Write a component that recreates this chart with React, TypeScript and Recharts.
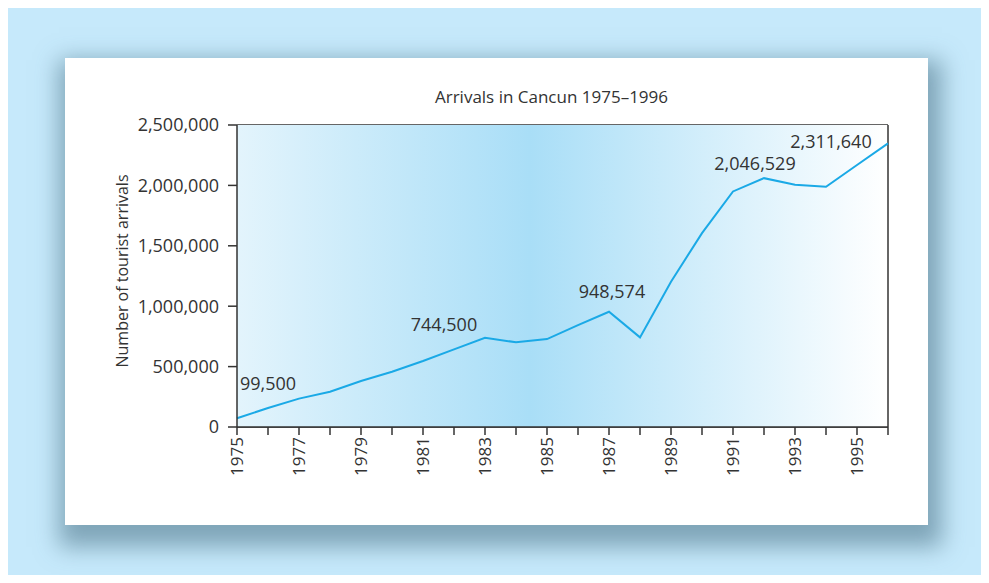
import React from 'react';
import { LineChart, Line, XAxis, YAxis, CartesianGrid, ReferenceArea, ReferenceLine, LabelList } from 'recharts';

const years = [1975, 1976, 1977, 1978, 1979, 1980, 1981, 1982, 1983, 1984, 1985, 1986, 1987, 1988, 1989, 1990, 1991, 1992, 1993, 1994, 1995, 1996];
const arrivals = [72000, 157000, 235000, 292000, 381000, 458000, 546000, 643000, 739000, 701000, 728000, 844000, 954000, 742000, 1203000, 1605000, 1950000, 2060000, 2006000, 1989000, 2169000, 2348000];
const pointLabels: Record<number, string> = {
  1975: '99,500',
  1983: '744,500',
  1987: '948,574',
  1992: '2,046,529',
  1996: '2,311,640',
};
const yTicks = [0, 500000, 1000000, 1500000, 2000000, 2500000];

const data = years.map((year, i) => ({ year, arrivals: arrivals[i], label: pointLabels[year] || '' }));

// label placement relative to the point (dx = centre offset, dy = vertical centre offset)
const labelOffset: Record<number, { dx: number; dy: number; anchor: string }> = {
  1975: { dx: 3, dy: -35, anchor: 'start' },
  1983: { dx: -41, dy: -13, anchor: 'middle' },
  1987: { dx: 3, dy: -20, anchor: 'middle' },
  1992: { dx: -9, dy: -14, anchor: 'middle' },
  1996: { dx: -57, dy: -2, anchor: 'middle' },
};

const font = '"Open Sans", sans-serif';
const ink = '#333333';

const fmt = (v: number) => v.toLocaleString('en-US');

const XTick = (props: any) => {
  const { x, y, payload } = props;
  if (payload.value % 2 === 0) return null;
  return (
    <text
      transform={`translate(${x},${y}) rotate(-90)`}
      textAnchor="end"
      dy="0.35em"
      fill={ink}
      fontSize={17}
      fontFamily={font}
    >
      {payload.value}
    </text>
  );
};

const PointLabel = (props: any) => {
  const { x, y, value, index } = props;
  if (!value) return null;
  const o = labelOffset[years[index]];
  return (
    <text x={x + o.dx} y={y + o.dy} dy="0.35em" textAnchor={o.anchor} fill={ink} fontSize={18} fontFamily={font}>
      {value}
    </text>
  );
};

export default function App() {
  return (
    <div style={{ position: 'relative', margin: -8, width: 989, height: 583, background: '#ffffff', overflow: 'hidden' }}>
      <div style={{ position: 'absolute', left: 5, top: 4, width: 979, height: 575, background: '#c6e9fb' }} />
      <div
        style={{
          position: 'absolute',
          left: 65,
          top: 58,
          width: 863,
          height: 467,
          background: '#ffffff',
          boxShadow: '4px 12px 22px 10px rgba(70, 110, 130, 0.55)',
        }}
      >
        <div
          style={{
            position: 'absolute',
            left: 0,
            top: 27,
            width: 973,
            textAlign: 'center',
            fontFamily: font,
            fontSize: 17,
            color: ink,
          }}
        >
          Arrivals in Cancun 1975–1996
        </div>
        <div
          style={{
            position: 'absolute',
            left: 57 - 110,
            top: 213 - 11,
            width: 220,
            height: 22,
            lineHeight: '22px',
            textAlign: 'center',
            transform: 'rotate(-90deg)',
            fontFamily: font,
            fontSize: 16,
            color: ink,
          }}
        >
          Number of tourist arrivals
        </div>
        <div style={{ position: 'absolute', left: 0, top: 0 }}>
          <LineChart width={863} height={467} data={data} margin={{ top: 67, right: 40, left: 0, bottom: 0 }}>
            <defs>
              <linearGradient id="plotBg" x1="0" y1="0" x2="1" y2="0">
                <stop offset="0%" stopColor="#e3f4fc" />
                <stop offset="45%" stopColor="#a9def7" />
                <stop offset="100%" stopColor="#ffffff" />
              </linearGradient>
            </defs>
            <ReferenceArea x1={1975} x2={1996} y1={0} y2={2500000} fill="url(#plotBg)" fillOpacity={1} stroke="none" ifOverflow="extendDomain" />
            <CartesianGrid vertical={false} stroke={ink} strokeWidth={1.5} strokeDasharray="" />
            <ReferenceLine x={1996} stroke={ink} strokeWidth={1.5} />
            <XAxis
              dataKey="year"
              type="number"
              domain={[1975, 1996]}
              ticks={years}
              interval={0}
              height={98}
              tickSize={8}
              tickMargin={2}
              tick={<XTick />}
              axisLine={{ stroke: ink, strokeWidth: 1.5 }}
              tickLine={{ stroke: ink, strokeWidth: 1.5 }}
            />
            <YAxis
              type="number"
              domain={[0, 2500000]}
              ticks={yTicks}
              interval={0}
              width={172}
              tickSize={9}
              tickMargin={9}
              tickFormatter={fmt}
              tick={{ fill: ink, fontSize: 18, fontFamily: font }}
              axisLine={{ stroke: ink, strokeWidth: 1.5 }}
              tickLine={{ stroke: ink, strokeWidth: 1.5 }}
            />
            <Line
              type="linear"
              dataKey="arrivals"
              stroke="#1aa9e6"
              strokeWidth={2}
              dot={false}
              isAnimationActive={false}
            >
              <LabelList dataKey="label" content={<PointLabel />} />
            </Line>
          </LineChart>
        </div>
      </div>
    </div>
  );
}
